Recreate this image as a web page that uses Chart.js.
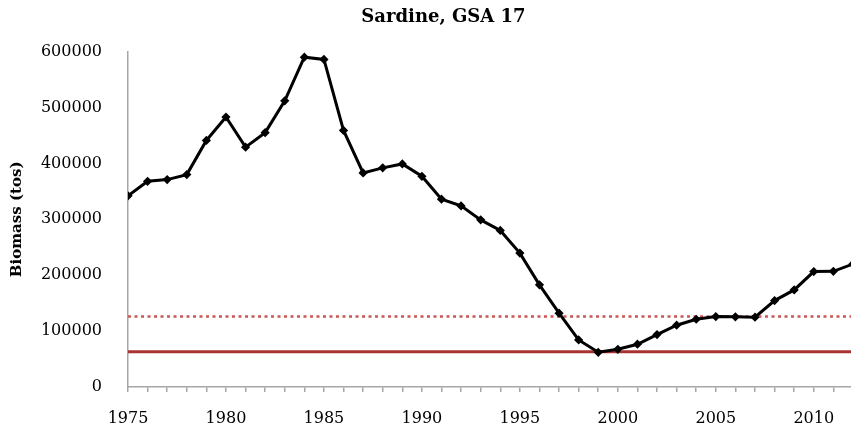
<!DOCTYPE html>
<html>
<head>
<meta charset="utf-8">
<script src="https://cdn.jsdelivr.net/npm/chart.js@4/dist/chart.umd.min.js"></script>
<style>
  html, body { margin: 0; padding: 0; background: #fff; }
  #wrap { width: 851px; height: 427px; }
</style>
</head>
<body>
<div id="wrap"><canvas id="biomass" width="851" height="427"></canvas></div>
<script>
var years = [1975, 1976, 1977, 1978, 1979, 1980, 1981, 1982, 1983, 1984, 1985, 1986, 1987,
  1988, 1989, 1990, 1991, 1992, 1993, 1994, 1995, 1996, 1997, 1998, 1999, 2000, 2001, 2002,
  2003, 2004, 2005, 2006, 2007, 2008, 2009, 2010, 2011, 2012];
var biomass = [342000, 368000, 371000, 380000, 441000, 483000, 429000, 455000, 512000, 590000,
  586000, 459000, 383000, 392000, 399000, 377000, 336000, 324000, 299000, 280000, 239500,
  182700, 132000, 84200, 62100, 67500, 76500, 93700, 110500, 121200, 126000, 125500, 124800,
  154600, 173700, 206500, 207000, 220000];
var blim = 63000;
var bpa = 126000;
var yTicks = [0, 100000, 200000, 300000, 400000, 500000, 600000];

var gray = '#a6a6a6';
var serif = "'DejaVu Serif', serif";

// flat reference lines, one point per year
function refLine(v) {
  return years.map(function (y) { return {x: y, y: v}; });
}

var ctx = document.getElementById("biomass");
var chart = new Chart(ctx, {
  type: 'line',
  data: {
    datasets: [
      {
        label: 'Biomass',
        data: years.map(function (y, i) { return {x: y, y: biomass[i]}; }),
        borderColor: '#000',
        backgroundColor: '#000',
        borderWidth: 3,
        pointStyle: 'rectRot',
        pointRadius: 2.5,
        tension: 0
      },
      {
        label: 'Bpa',
        data: refLine(bpa),
        borderColor: '#cc5555',
        borderWidth: 2.5,
        borderDash: [3, 3.5],
        borderCapStyle: 'butt',
        pointRadius: 0
      },
      {
        label: 'Blim',
        data: refLine(blim),
        borderColor: '#a93232',
        borderWidth: 3,
        pointRadius: 0
      }
    ]
  },
  options: {
    responsive: false,
    animation: false,
    layout: { autoPadding: false, padding: { top: 7, left: 0, right: 0, bottom: 0 } },
    plugins: {
      legend: { display: false },
      tooltip: { enabled: false },
      title: {
        display: true,
        text: 'Sardine, GSA 17',
        color: '#000',
        font: { family: serif, size: 18, weight: 'bold' },
        padding: { top: 0, bottom: 23 }
      }
    },
    scales: {
      x: {
        type: 'linear',
        min: 1975,
        max: 2011.9,
        grid: { drawOnChartArea: false, drawTicks: true, tickLength: 5, color: gray, lineWidth: 1.5 },
        border: { display: true, color: gray, width: 1.5 },
        ticks: {
          stepSize: 1,
          autoSkip: false,
          maxRotation: 0,
          includeBounds: false,
          padding: 17,
          color: '#000',
          font: { family: serif, size: 16 },
          callback: function (v) { return v % 5 === 0 ? String(v) : ''; }
        },
        afterFit: function (scale) {
          scale.height = 40;
          scale.paddingLeft = 0;
          scale.paddingRight = 0;
        }
      },
      y: {
        min: 0,
        max: 600000,
        grid: { display: false },
        border: { display: true, color: gray, width: 1.5 },
        afterBuildTicks: function (scale) {
          scale.ticks = yTicks.map(function (v) { return {value: v}; });
        },
        ticks: {
          padding: 18,
          color: '#000',
          font: { family: serif, size: 16 },
          callback: function (v) { return String(v); }
        },
        title: {
          display: true,
          text: 'Biomass (tos)',
          color: '#000',
          font: { family: serif, size: 15, weight: 'bold' },
          padding: { top: 8, bottom: 0 }
        },
        afterFit: function (scale) { scale.width = 128; }
      }
    }
  },
  plugins: [{
    id: 'shiftTitle',
    afterLayout: function (c) {
      if (c.titleBlock) { c.titleBlock.left = 36; }
    }
  }]
});
</script>
</body>
</html>
